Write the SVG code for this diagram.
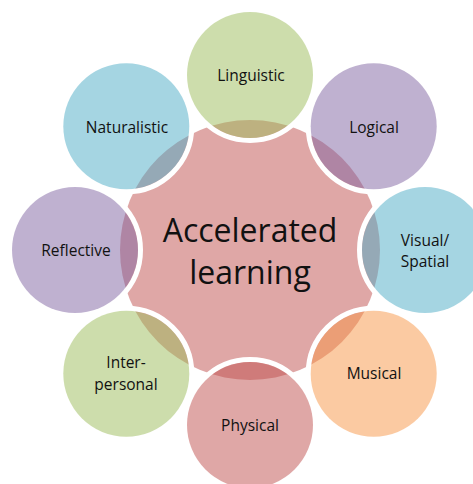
<svg xmlns="http://www.w3.org/2000/svg" width="473" height="484" viewBox="0 0 473 484">
<style>
.ring{fill:none;stroke:#FFFFFF;stroke-width:5}
.node{fill-opacity:0.5}
.g{fill:#9BBB59}.p{fill:#8064A2}.b{fill:#4BACC6}.o{fill:#F79646}.r{fill:#C0504D}
text{font-family:"Open Sans","Liberation Sans",sans-serif;font-size:15.5px;fill:#111;text-anchor:middle;dominant-baseline:central}
.big{font-size:32px}
</style>
<rect width="473" height="484" fill="#FFFFFF"/>
<g id="center">
<circle cx="250" cy="250" r="130" fill="#DFA7A6"/>
</g>
<g id="connectors">
<circle class="ring" cx="250" cy="75" r="65.5"/>
<circle class="ring" cx="373.7" cy="126.3" r="65.5"/>
<circle class="ring" cx="425" cy="250" r="65.5"/>
<circle class="ring" cx="373.7" cy="373.7" r="65.5"/>
<circle class="ring" cx="250" cy="425" r="65.5"/>
<circle class="ring" cx="126.3" cy="373.7" r="65.5"/>
<circle class="ring" cx="75" cy="250" r="65.5"/>
<circle class="ring" cx="126.3" cy="126.3" r="65.5"/>
</g>
<g id="linguistic"><circle class="node g" cx="250" cy="75" r="63"/><text x="251" y="75">Linguistic</text></g>
<g id="logical"><circle class="node p" cx="373.7" cy="126.3" r="63"/><text x="374" y="127">Logical</text></g>
<g id="visual"><circle class="node b" cx="425" cy="250" r="63"/><text x="425" y="240">Visual/</text><text x="425" y="261">Spatial</text></g>
<g id="musical"><circle class="node o" cx="373.7" cy="373.7" r="63"/><text x="374" y="373">Musical</text></g>
<g id="physical"><circle class="node r" cx="250" cy="425" r="63"/><text x="250" y="425">Physical</text></g>
<g id="interpersonal"><circle class="node g" cx="126.3" cy="373.7" r="63"/><text x="126" y="362">Inter-</text><text x="126" y="384">personal</text></g>
<g id="reflective"><circle class="node p" cx="75" cy="250" r="63"/><text x="76" y="250">Reflective</text></g>
<g id="naturalistic"><circle class="node b" cx="126.3" cy="126.3" r="63"/><text x="127" y="127">Naturalistic</text></g>
<g id="center-label"><text class="big" x="250" y="229">Accelerated</text><text class="big" x="250" y="271">learning</text></g>
</svg>
